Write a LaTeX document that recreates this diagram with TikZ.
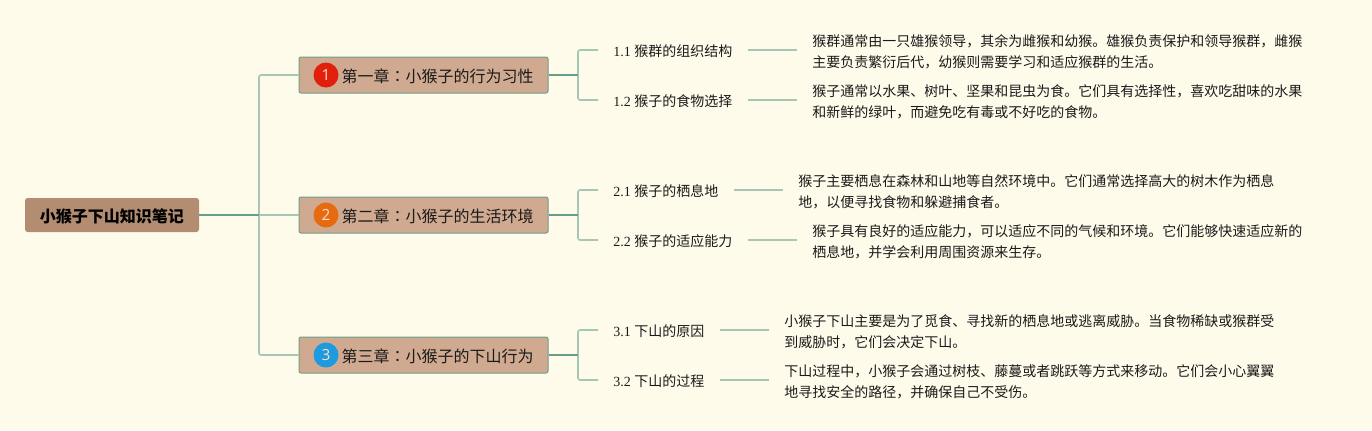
\documentclass[tikz,border=0pt]{standalone}
\usepackage{fontspec}
\setmainfont{Liberation Serif}
\newfontfamily\cjk{Noto Sans CJK SC}
\newfontfamily\cjktc{Noto Sans CJK TC}
\newfontfamily\numfont{Open Sans}
\definecolor{bgc}{HTML}{FFFBEB}
\definecolor{rootc}{HTML}{B38D72}
\definecolor{chapc}{HTML}{D0AA90}
\definecolor{edgec}{HTML}{6D9E8A}
\definecolor{darkl}{HTML}{669E8B}
\definecolor{lightl}{HTML}{A5C7B3}
\definecolor{inkc}{HTML}{1A1A1A}
\definecolor{redc}{HTML}{E0200C}
\definecolor{orgc}{HTML}{E86A10}
\definecolor{bluc}{HTML}{1E9BE0}
\tikzset{
  rootbox/.style={fill=rootc,rounded corners=2pt,minimum width=130.5pt,minimum height=25.5pt,inner sep=0pt,text height=12.5pt,text depth=1.5pt,text=black,font=\cjk\fontsize{12}{14}\selectfont\bfseries},
  chapbox/.style={fill=chapc,draw=edgec,line width=.75pt,rounded corners=1.5pt,minimum width=186.75pt,minimum height=27pt,inner sep=0pt,text height=12.5pt,text depth=1.5pt,text=inkc,font=\cjk\fontsize{12}{14}\selectfont},
  badge/.style={circle,minimum size=18.75pt,inner sep=0pt,text=white!75!orange,font=\numfont\fontsize{11.5}{13}\selectfont},
  subbox/.style={anchor=west,inner xsep=11.25pt,inner ysep=1pt,text height=11.5pt,text depth=1.5pt,text=inkc,font=\fontsize{10.5}{13}\selectfont},
  descbox/.style={anchor=west,align=left,inner xsep=11.25pt,inner ysep=0pt,text=inkc,font=\cjk\fontsize{10.5}{15.75}\selectfont},
  darkline/.style={draw=darkl,line width=1.2pt},
  lightline/.style={draw=lightl,line width=1.2pt,rounded corners=1.5pt},
}
\newcommand{\zh}[1]{{\cjk #1}}
\newcommand{\col}{{\cjktc ：}}
\begin{document}
\begin{tikzpicture}[x=0.75pt,y=-0.75pt]
\fill[bgc] (0,0) rectangle (1372,430);
\useasboundingbox (0,0) rectangle (1372,430);
\node[rootbox] (root) at (112,215) {小猴子下山知识笔记};
\node[chapbox] (ch1) at (423.5,75) {\hspace*{21pt}第一章\col 小猴子的行为习性};
\node[chapbox] (ch2) at (423.5,215) {\hspace*{21pt}第二章\col 小猴子的生活环境};
\node[chapbox] (ch3) at (423.5,355) {\hspace*{21pt}第三章\col 小猴子的下山行为};
\node[badge,fill=redc] (n1) at (326,75) {1};
\node[badge,fill=orgc] (n2) at (326,215) {2};
\node[badge,fill=bluc] (n3) at (326,355) {3};
\node[subbox] (s11) at (598,50) {1.1 \zh{猴群的组织结构}};
\node[subbox] (s12) at (598,100) {1.2 \zh{猴子的食物选择}};
\node[subbox] (s21) at (598,190) {2.1 \zh{猴子的栖息地}};
\node[subbox] (s22) at (598,240) {2.2 \zh{猴子的适应能力}};
\node[subbox] (s31) at (598,330) {3.1 \zh{下山的原因}};
\node[subbox] (s32) at (598,380) {3.2 \zh{下山的过程}};
\node[descbox] (d11) at (797,52) {猴群通常由一只雄猴领导，其余为雌猴和幼猴。雄猴负责保护和领导猴群，雌猴\\主要负责繁衍后代，幼猴则需要学习和适应猴群的生活。};
\node[descbox] (d12) at (797,102) {猴子通常以水果、树叶、坚果和昆虫为食。它们具有选择性，喜欢吃甜味的水果\\和新鲜的绿叶，而避免吃有毒或不好吃的食物。};
\node[descbox] (d21) at (783,192) {猴子主要栖息在森林和山地等自然环境中。它们通常选择高大的树木作为栖息\\地，以便寻找食物和躲避捕食者。};
\node[descbox] (d22) at (797,242) {猴子具有良好的适应能力，可以适应不同的气候和环境。它们能够快速适应新的\\栖息地，并学会利用周围资源来生存。};
\node[descbox] (d31) at (769,332) {小猴子下山主要是为了觅食、寻找新的栖息地或逃离威胁。当食物稀缺或猴群受\\到威胁时，它们会决定下山。};
\node[descbox] (d32) at (769,382) {下山过程中，小猴子会通过树枝、藤蔓或者跳跃等方式来移动。它们会小心翼翼\\地寻找安全的路径，并确保自己不受伤。};
\coordinate (trunk) at (259,215);
\coordinate (b1) at (578,75);
\coordinate (b2) at (578,215);
\coordinate (b3) at (578,355);
\draw[lightline] (ch1.west) -| (trunk);
\draw[lightline] (ch3.west) -| (trunk);
\draw[lightline] (trunk) -- (ch2.west);
\draw[darkline] (root.east) -- (trunk);
\foreach \c/\b/\u/\v in {ch1/b1/s11/s12,ch2/b2/s21/s22,ch3/b3/s31/s32}{
  \draw[lightline] (\u.west) -| (\b);
  \draw[lightline] (\v.west) -| (\b);
  \draw[darkline] (\c.east) -- (\b);
}
\draw[lightline] (s11.east) -- (d11.west |- s11.east);
\draw[lightline] (s12.east) -- (d12.west |- s12.east);
\draw[lightline] (s21.east) -- (d21.west |- s21.east);
\draw[lightline] (s22.east) -- (d22.west |- s22.east);
\draw[lightline] (s31.east) -- (d31.west |- s31.east);
\draw[lightline] (s32.east) -- (d32.west |- s32.east);
\end{tikzpicture}
\end{document}
